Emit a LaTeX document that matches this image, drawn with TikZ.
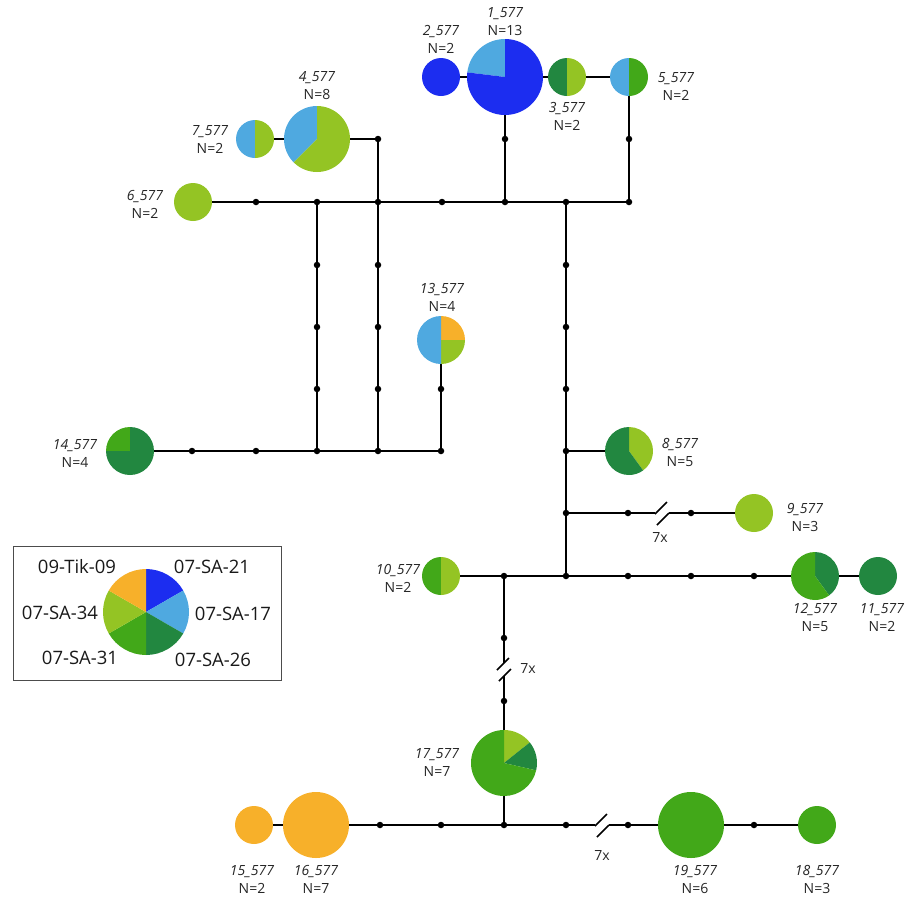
\documentclass[tikz,border=0pt]{standalone}
\usepackage{fontspec}
\setmainfont{Open Sans}
\definecolor{cBlue}{HTML}{1C2DF0}
\definecolor{cSky}{HTML}{4FA9E0}
\definecolor{cDark}{HTML}{228740}
\definecolor{cGreen}{HTML}{42A819}
\definecolor{cLime}{HTML}{94C424}
\definecolor{cOrange}{HTML}{F7B02A}
\tikzset{
  hap/.style={circle,inner sep=0pt,minimum size=#1},
  knot/.style={circle,fill=black,inner sep=0pt,minimum size=6.5pt},
  link/.style={line width=1.6pt},
  hlabel/.style={align=center,text=black!85,font=\fontsize{14}{18}\selectfont},
  keytext/.style={text=black!90,font=\fontsize{18.5}{20}\selectfont},
}
\newcommand{\slice}[5]{\fill[#5] (#1.center) -- ++(#3:#2pt) arc[start angle=#3,end angle=#4,radius=#2pt] -- cycle;}
\newcommand{\gapmark}[1]{\draw[link] (#1) ++(-7,-1) -- ++(12,12) (#1) ++(-5,-12) -- ++(12,12);}
\begin{document}
\begin{tikzpicture}[x=1pt,y=1pt]
\useasboundingbox (0,0) rectangle (916,-898);
\node[hap=76pt] (h1) at (505,-77) {};
\node[hap=38pt,fill=cBlue] (h2) at (441,-77) {};
\node[hap=38pt] (h3) at (567,-77) {};
\node[hap=38pt] (h5) at (629,-77) {};
\node[hap=66pt] (h4) at (317,-139) {};
\node[hap=38pt] (h7) at (255,-139) {};
\node[hap=38pt,fill=cLime] (h6) at (193,-202) {};
\node[hap=48pt] (h13) at (441,-340) {};
\node[hap=48pt] (h14) at (130,-451) {};
\node[hap=48pt] (h8) at (629,-451) {};
\node[hap=38pt,fill=cLime] (h9) at (754,-513) {};
\node[hap=38pt] (h10) at (441,-576) {};
\node[hap=48pt] (h12) at (815,-576) {};
\node[hap=38pt,fill=cDark] (h11) at (878,-576) {};
\node[hap=66pt] (h17) at (504,-763) {};
\node[hap=38pt,fill=cOrange] (h15) at (254,-825) {};
\node[hap=66pt,fill=cOrange] (h16) at (316,-825) {};
\node[hap=66pt,fill=cGreen] (h19) at (691,-825) {};
\node[hap=38pt,fill=cGreen] (h18) at (817,-825) {};
\coordinate (t1) at (256,-202);
\coordinate (t2) at (317,-202);
\coordinate (t3) at (378,-202);
\coordinate (t4) at (442,-202);
\coordinate (t5) at (505,-202);
\coordinate (t6) at (566,-202);
\coordinate (t7) at (629,-202);
\coordinate (u1) at (505,-139);
\coordinate (u2) at (629,-139);
\coordinate (u3) at (378,-139);
\coordinate (p1) at (317,-265);
\coordinate (p2) at (317,-327);
\coordinate (p3) at (317,-389);
\coordinate (p4) at (317,-451);
\coordinate (q1) at (378,-265);
\coordinate (q2) at (378,-327);
\coordinate (q3) at (378,-389);
\coordinate (q4) at (378,-451);
\coordinate (r1) at (441,-389);
\coordinate (r2) at (441,-451);
\coordinate (s1) at (192,-451);
\coordinate (s2) at (256,-451);
\coordinate (m1) at (566,-265);
\coordinate (m2) at (566,-327);
\coordinate (m3) at (566,-389);
\coordinate (m4) at (566,-451);
\coordinate (m5) at (566,-513);
\coordinate (m6) at (566,-576);
\coordinate (b1) at (628,-513);
\coordinate (k1) at (662,-513);
\coordinate (b2) at (691,-513);
\coordinate (c1) at (504,-576);
\coordinate (c2) at (628,-576);
\coordinate (c3) at (691,-576);
\coordinate (c4) at (754,-576);
\coordinate (v1) at (504,-638);
\coordinate (k2) at (504,-669);
\coordinate (v2) at (504,-701);
\coordinate (w1) at (380,-825);
\coordinate (w2) at (441,-825);
\coordinate (w3) at (504,-825);
\coordinate (w4) at (566,-825);
\coordinate (k3) at (602,-825);
\coordinate (w5) at (628,-825);
\coordinate (w6) at (754,-825);
\draw[link] (h2) -- (h1) -- (h3) -- (h5);
\draw[link] (h1) -- (t5);
\draw[link] (h5) -- (t7);
\draw[link] (h6) -- (t7);
\draw[link] (h7) -- (h4) -- (u3) -- (q4);
\draw[link] (t2) -- (p4);
\draw[link] (h13) -- (r2);
\draw[link] (h14) -- (r2);
\draw[link] (t6) -- (m6);
\draw[link] (m4) -- (h8);
\draw[link] (m5) -- ([xshift=-7pt]k1);
\draw[link] ([xshift=7pt]k1) -- (h9);
\draw[link] (h10) -- (h12) -- (h11);
\draw[link] (c1) -- ([yshift=6pt]k2);
\draw[link] ([yshift=-7pt]k2) -- (h17) -- (w3);
\draw[link] (h15) -- (h16) -- ([xshift=-7pt]k3);
\draw[link] ([xshift=7pt]k3) -- (h19) -- (h18);
\gapmark{k1}
\gapmark{k2}
\gapmark{k3}
\foreach \j in {t1,t2,t3,t4,t5,t6,t7,u1,u2,u3,p1,p2,p3,p4,q1,q2,q3,q4,r1,r2,s1,s2,m1,m2,m3,m4,m5,m6,b1,b2,c1,c2,c3,c4,v1,v2,w1,w2,w3,w4,w5,w6}
  \node[knot] at (\j) {};
\slice{h1}{38}{90}{173}{cSky}
\slice{h1}{38}{173}{450}{cBlue}
\slice{h3}{19}{90}{270}{cDark}
\slice{h3}{19}{-90}{90}{cLime}
\slice{h5}{19}{90}{270}{cSky}
\slice{h5}{19}{-90}{90}{cGreen}
\slice{h4}{33}{90}{225}{cSky}
\slice{h4}{33}{225}{450}{cLime}
\slice{h7}{19}{90}{270}{cSky}
\slice{h7}{19}{-90}{90}{cLime}
\slice{h13}{24}{0}{90}{cOrange}
\slice{h13}{24}{-90}{0}{cLime}
\slice{h13}{24}{90}{270}{cSky}
\slice{h14}{24}{90}{180}{cGreen}
\slice{h14}{24}{180}{450}{cDark}
\slice{h8}{24}{-54}{90}{cLime}
\slice{h8}{24}{90}{306}{cDark}
\slice{h10}{19}{90}{270}{cGreen}
\slice{h10}{19}{-90}{90}{cLime}
\slice{h12}{24}{-54}{90}{cDark}
\slice{h12}{24}{90}{306}{cGreen}
\slice{h17}{33}{38.6}{90}{cLime}
\slice{h17}{33}{-12.9}{38.6}{cDark}
\slice{h17}{33}{90}{347.1}{cGreen}
\node[hlabel] (n1) at (505,-22) {\textit{1\_577}\\N=13};
\node[hlabel] (n2) at (441,-39) {\textit{2\_577}\\N=2};
\node[hlabel] (n3) at (567,-116) {\textit{3\_577}\\N=2};
\node[hlabel] (n5) at (676,-86) {\textit{5\_577}\\N=2};
\node[hlabel] (n4) at (317,-86) {\textit{4\_577}\\N=8};
\node[hlabel] (n7) at (210,-139) {\textit{7\_577}\\N=2};
\node[hlabel] (n6) at (145,-204) {\textit{6\_577}\\N=2};
\node[hlabel] (n13) at (442,-297) {\textit{13\_577}\\N=4};
\node[hlabel] (n8) at (680,-452) {\textit{8\_577}\\N=5};
\node[hlabel] (n14) at (75,-453) {\textit{14\_577}\\N=4};
\node[hlabel] (n9) at (805,-517) {\textit{9\_577}\\N=3};
\node[hlabel] (n12) at (815,-617) {\textit{12\_577}\\N=5};
\node[hlabel] (n11) at (882,-617) {\textit{11\_577}\\N=2};
\node[hlabel] (n10) at (398,-578) {\textit{10\_577}\\N=2};
\node[hlabel] (n17) at (437,-762) {\textit{17\_577}\\N=7};
\node[hlabel] (n15) at (252,-879) {\textit{15\_577}\\N=2};
\node[hlabel] (n16) at (316,-879) {\textit{16\_577}\\N=7};
\node[hlabel] (n19) at (695,-879) {\textit{19\_577}\\N=6};
\node[hlabel] (n18) at (817,-879) {\textit{18\_577}\\N=3};
\node[hlabel] (x1) at (660,-537) {7x};
\node[hlabel] (x2) at (528,-668) {7x};
\node[hlabel] (x3) at (602,-855) {7x};
\node[draw=black!70,line width=0.8pt,minimum width=268pt,minimum height=134pt] (keybox) at (147,-613) {};
\node[hap=86pt] (key) at (146,-612) {};
\slice{key}{43}{30}{90}{cBlue}
\slice{key}{43}{-30}{30}{cSky}
\slice{key}{43}{-90}{-30}{cDark}
\slice{key}{43}{-150}{-90}{cGreen}
\slice{key}{43}{150}{210}{cLime}
\slice{key}{43}{90}{150}{cOrange}
\node[keytext] (k09) at (77,-567) {09-Tik-09};
\node[keytext] (k21) at (212,-567) {07-SA-21};
\node[keytext] (k34) at (60,-613) {07-SA-34};
\node[keytext] (k17) at (233,-614) {07-SA-17};
\node[keytext] (k31) at (80,-658) {07-SA-31};
\node[keytext] (k26) at (213,-660) {07-SA-26};
\end{tikzpicture}
\end{document}
